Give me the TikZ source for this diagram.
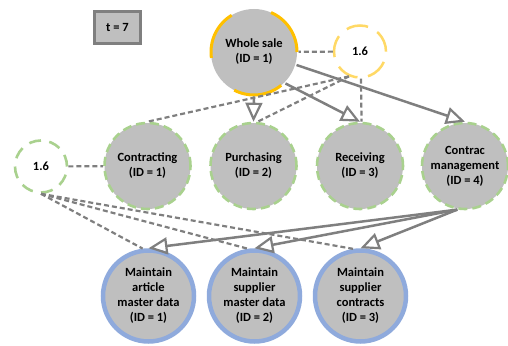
\documentclass[tikz,border=0pt]{standalone}
\usepackage{fontspec}
\setmainfont{Carlito}
\usetikzlibrary{arrows.meta}
\definecolor{fillgray}{HTML}{BFBFBF}
\definecolor{linegray}{HTML}{7F7F7F}
\definecolor{wsorange}{HTML}{FFC000}
\definecolor{lightorange}{HTML}{FFD966}
\definecolor{lightgreen}{HTML}{A9D18E}
\definecolor{lightblue}{HTML}{8FAADC}
\begin{document}
\begin{tikzpicture}[x=1pt,y=-1pt,
    every node/.style={font=\fontsize{12.5}{15}\selectfont\bfseries, align=center, inner sep=0pt},
    timebox/.style={rectangle, draw=linegray, fill=fillgray, line width=3pt, minimum width=46.5pt, minimum height=32pt},
    mainproc/.style={circle, draw=wsorange, fill=fillgray, line width=3pt, dash pattern=on 50pt off 41pt, minimum size=86pt},
    proc/.style={circle, draw=lightgreen, fill=fillgray, line width=2.6pt, dash pattern=on 9pt off 5pt, minimum size=86pt},
    task/.style={circle, draw=lightblue, fill=fillgray, line width=4.5pt, minimum size=91pt},
    weightorange/.style={circle, draw=lightorange, fill=white, line width=2.5pt, dash pattern=on 22pt off 10.6pt, minimum size=52pt},
    weightgreen/.style={circle, draw=lightgreen, fill=white, line width=2.6pt, dash pattern=on 12pt off 8.4pt, minimum size=52pt},
    link/.style={draw=linegray, line width=2.2pt, dash pattern=on 5pt off 3pt},
    flow/.style={draw=linegray, line width=2.5pt, -{Triangle[open, length=19pt, width=17pt, line width=2.2pt]}}
  ]
  \useasboundingbox (0,0) rectangle (508,345);

  \node[timebox] (T) at (117.5,27.5) {t = 7};
  \node[mainproc] (W) at (254,52) {Whole sale\\(ID = 1)};
  \node[weightorange] (S) at (360,51.5) {1.6};
  \node[weightgreen] (L) at (41,166.5) {1.6};

  \node[proc] (C1) at (147.5,166) {Contracting\\(ID = 1)};
  \node[proc] (C2) at (253.5,166) {Purchasing\\(ID = 2)};
  \node[proc] (C3) at (360,166) {Receiving\\(ID = 3)};
  \node[proc] (C4) at (465,166) {Contrac\\management\\(ID = 4)};

  \node[task] (M1) at (148.5,296) {Maintain\\article\\master data\\(ID = 1)};
  \node[task] (M2) at (254.5,296) {Maintain\\supplier\\master data\\(ID = 2)};
  \node[task] (M3) at (360.5,296) {Maintain\\supplier\\contracts\\(ID = 3)};

  \draw[link] (S) -- (W);
  \draw[link] (S.246) -- (C1.north);
  \draw[link] (S.246) -- (C2.85);
  \draw[link] (S.272) -- (C3.88);
  \draw[link] (L) -- (C1);
  \draw[link] (L.south) -- (M1.97);
  \draw[link] (L.south) -- (M2.98);
  \draw[link] (L.south) -- (M3.99);

  \draw[flow] (W.south) -- (C2.north);
  \draw[flow] (W.-45) -- (C3.north);
  \draw[flow] (W.-17) -- (C4.north);
  \draw[flow] (C4.-100) -- (M1.north);
  \draw[flow] (C4.-100) -- (M2.north);
  \draw[flow] (C4.-100) -- (M3.north);
\end{tikzpicture}
\end{document}
